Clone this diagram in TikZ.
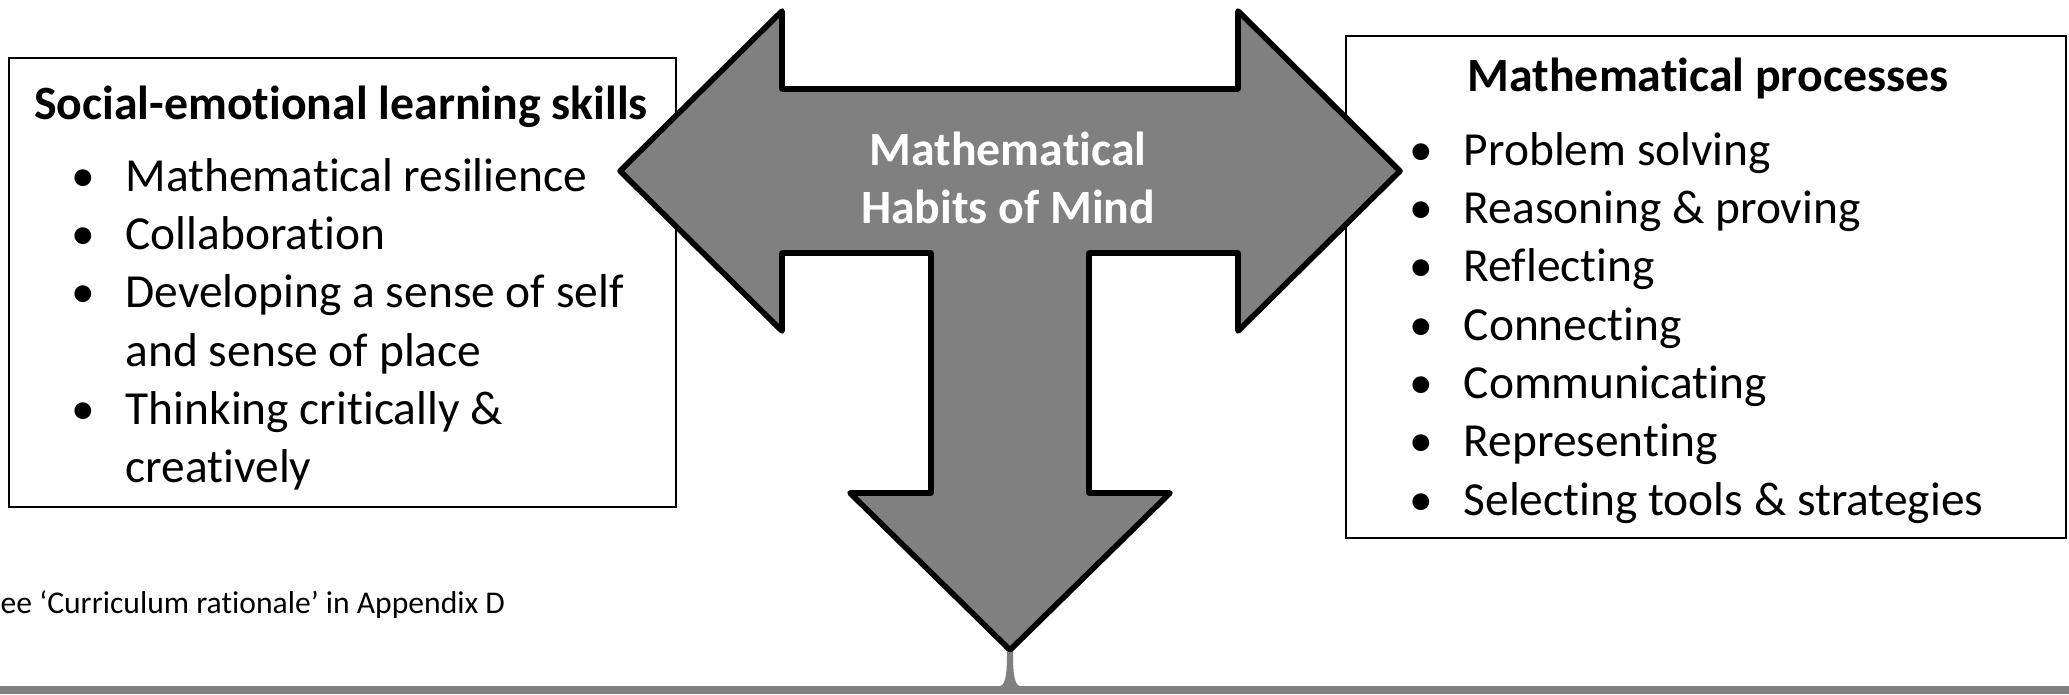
\documentclass[tikz,border=0pt]{standalone}
\usepackage{fontspec}
\setmainfont{Carlito}[Ligatures=NoCommon]
\definecolor{arrowgray}{HTML}{808080}
\newcommand{\itembul}{\makebox[8.4mm]{\textbullet}}

\begin{document}
\begin{tikzpicture}[
    x=0.1mm, y=-0.1mm,
    listbox/.style={rectangle, draw, line width=0.6pt, fill=white, inner sep=0pt},
    heading/.style={font=\fontsize{13.6}{16.5}\selectfont\bfseries},
    itemlist/.style={anchor=base west, inner sep=0pt, font=\fontsize{13.5}{16.6}\selectfont},
    bigarrow/.style={draw, fill=arrowgray, line width=1.6pt, line join=round},
    note/.style={anchor=west, inner sep=0pt, font=\fontsize{9}{11}\selectfont}
]
    \useasboundingbox (0,0) rectangle (2069,694);

    % Social-emotional box
    \node[listbox, minimum width=66.7mm, minimum height=44.9mm] (selbox) at (342.5,282.5) {};
    \node[heading] (seltitle) at (341,107) {Social-emotional learning skills};
    \node[itemlist] (sellist) at (41,191) {\begin{tabular}[t]{@{}c@{}l@{}}
        \itembul & Mathematical resilience\\
        \itembul & Collaboration\\
        \itembul & Developing a sense of self\\
                 & and sense of place\\
        \itembul & Thinking critically \&\\
                 & creatively
    \end{tabular}};

    % Processes box
    \node[listbox, minimum width=72mm, minimum height=50.2mm] (procbox) at (1706,287) {};
    \node[heading] (proctitle) at (1708,78) {Mathematical processes};
    \node[itemlist] (proclist) at (1379,165) {\begin{tabular}[t]{@{}c@{}l@{}}
        \itembul & Problem solving\\
        \itembul & Reasoning \& proving\\
        \itembul & Reflecting\\
        \itembul & Connecting\\
        \itembul & Communicating\\
        \itembul & Representing\\
        \itembul & Selecting tools \& strategies
    \end{tabular}};

    % T-shaped arrow
    \draw[bigarrow] (620,171) -- (782,11) -- (782,89) -- (1238,89) -- (1238,11)
        -- (1400,171) -- (1238,331) -- (1238,253) -- (1089,253) -- (1089,493)
        -- (1170,493) -- (1010,650) -- (850,493) -- (931,493) -- (931,253)
        -- (782,253) -- (782,331) -- cycle;
    \node[heading, text=white, align=center] (habits) at (1008,178) {Mathematical\\Habits of Mind};

    % bottom bar
    \fill[arrowgray] (0,686) rectangle (2069,694);
    \fill[arrowgray] (1007,652) -- (1013,652) .. controls (1013,678) and (1015,685) .. (1021,687)
        -- (999,687) .. controls (1005,685) and (1007,678) .. (1007,652);

    \node[note] (footnote) at (0,605) {ee ‘Curriculum rationale’ in Appendix D};
\end{tikzpicture}
\end{document}
